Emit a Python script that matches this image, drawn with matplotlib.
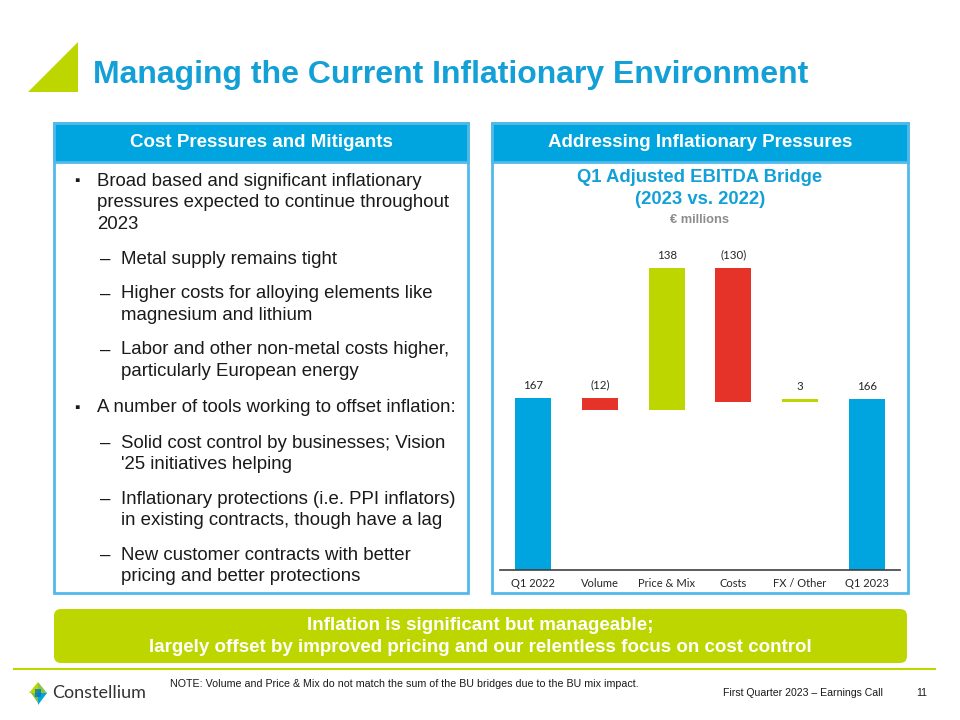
import numpy as np
import matplotlib.pyplot as plt
from matplotlib.patches import Rectangle, Polygon, FancyBboxPatch

# waterfall data (EUR millions)
categories = ['Q1 2022', 'Volume', 'Price & Mix', 'Costs', 'FX / Other', 'Q1 2023']
values = [167, -12, 138, -130, 3, 166]
is_total = [True, False, False, False, False, True]

BLUE = '#00A5E0'
TITLE_BLUE = '#12A0D7'
LIME = '#BED600'
RED = '#E6332A'
BORDER = '#52B9EA'
TXT = '#1A1A1A'

SANS = ['Liberation Sans', 'DejaVu Sans']
NARROW = ['Liberation Sans Narrow', 'Liberation Sans', 'DejaVu Sans']

fig = plt.figure(figsize=(9.6, 7.2), dpi=100)
bg = fig.add_axes([0, 0, 1, 1])
bg.set_xlim(0, 960)
bg.set_ylim(720, 0)
bg.axis('off')

# title + corner triangle
bg.add_patch(Polygon([(28, 92), (78, 42), (78, 92)], closed=True, color=LIME, lw=0))
bg.text(93, 75, 'Managing the Current Inflationary Environment', family=SANS,
        fontsize=23, weight='bold', color=TITLE_BLUE, va='center', ha='left')

# two panels
for x0, x1, head in [(54, 468, 'Cost Pressures and Mitigants'),
                     (492, 908, 'Addressing Inflationary Pressures')]:
    bg.add_patch(Rectangle((x0, 123), x1 - x0, 470, fc='white', ec=BORDER, lw=2))
    bg.add_patch(Rectangle((x0, 123), x1 - x0, 39, fc=BLUE, ec=BORDER, lw=2))
    bg.text((x0 + x1) / 2, 142.5, head, family=SANS, fontsize=13.5, weight='bold',
            color='white', ha='center', va='center')

# left panel bullets
bullets = [
    ('sq', ['Broad based and significant inflationary',
            'pressures expected to continue throughout', '2023'], 181),
    ('dash', ['Metal supply remains tight'], 259),
    ('dash', ['Higher costs for alloying elements like', 'magnesium and lithium'], 294),
    ('dash', ['Labor and other non-metal costs higher,', 'particularly European energy'], 350),
    ('sq', ['A number of tools working to offset inflation:'], 408),
    ('dash', ['Solid cost control by businesses; Vision', "'25 initiatives helping"], 443),
    ('dash', ['Inflationary protections (i.e. PPI inflators)',
              'in existing contracts, though have a lag'], 499),
    ('dash', ['New customer contracts with better', 'pricing and better protections'], 555),
]
for kind, lines, y in bullets:
    if kind == 'sq':
        bg.text(77, y, '\u25aa', family=SANS, fontsize=11, color=TXT, ha='center', va='center')
        tx = 97
    else:
        bg.text(105, y, '\u2013', family=SANS, fontsize=13.4, color=TXT, ha='center', va='center')
        tx = 121
    for i, ln in enumerate(lines):
        bg.text(tx, y + i * 21.7, ln, family=SANS, fontsize=13.4, color=TXT,
                ha='left', va='center')

# chart headings
bg.text(700, 178, 'Q1 Adjusted EBITDA Bridge', family=SANS, fontsize=13.3, weight='bold',
        color=TITLE_BLUE, ha='center', va='center')
bg.text(700, 200, '(2023 vs. 2022)', family=SANS, fontsize=13.3, weight='bold',
        color=TITLE_BLUE, ha='center', va='center')
bg.text(700, 220, '\u20ac millions', family=SANS, fontsize=9.3, weight='bold',
        color='#8C8C8C', ha='center', va='center')

# waterfall chart
ax = fig.add_axes([500 / 960, 1 - 570 / 720, 400 / 960, 320 / 720])
x = np.arange(len(categories))
bottoms, heights, colors = [], [], []
run = 0
for v, tot in zip(values, is_total):
    if tot:
        bottoms.append(0)
        heights.append(v)
        colors.append(BLUE)
        run = v
    else:
        bottoms.append(run if v > 0 else run + v)
        heights.append(abs(v))
        colors.append(LIME if v > 0 else RED)
        run += v
ax.bar(x, heights, bottom=bottoms, width=0.54, color=colors, linewidth=0)
for xi, b, h, v in zip(x, bottoms, heights, values):
    lab = f'({abs(v)})' if v < 0 else f'{v}'
    ax.annotate(lab, (xi, b + h), xytext=(0, 5), textcoords='offset points',
                ha='center', va='bottom', family=['Lato', 'DejaVu Sans'],
                fontsize=8.3, color='#262626')
ax.set_xlim(-0.5, len(categories) - 0.5)
ax.set_ylim(0, 310)
ax.set_xticks(x, categories, family=['Lato', 'DejaVu Sans'], fontsize=8, color='#262626')
ax.tick_params(axis='x', length=0, pad=6)
ax.set_yticks([])
for s in ['top', 'left', 'right']:
    ax.spines[s].set_visible(False)
ax.spines['bottom'].set_color('#404040')
ax.spines['bottom'].set_linewidth(1.2)
ax.patch.set_alpha(0)

# green banner
bg.add_patch(FancyBboxPatch((54, 609), 853, 54, boxstyle='round,pad=0,rounding_size=7',
                            fc=LIME, ec='none'))
bg.text(480, 626, 'Inflation is significant but manageable;', family=NARROW,
        fontsize=13.5, weight='bold', color='white', ha='center', va='center')
bg.text(480, 647, 'largely offset by improved pricing and our relentless focus on cost control',
        family=NARROW, fontsize=13.5, weight='bold', color='white', ha='center', va='center')

# footer
bg.plot([14, 935], [669, 669], color=LIME, lw=1.5)
bg.text(170, 684, 'NOTE: Volume and Price & Mix do not match the sum of the BU bridges '
        'due to the BU mix impact.', family=NARROW, fontsize=7.7, color=TXT,
        ha='left', va='center')
bg.text(883, 693, 'First Quarter 2023 \u2013 Earnings Call', family=NARROW, fontsize=7.6,
        color=TXT, ha='right', va='center')
bg.text(922, 693, '11', family=NARROW, fontsize=7.6, color=TXT, ha='center', va='center')

# logo
bg.add_patch(Polygon([(29, 693), (38, 682), (38, 693)], color=LIME, lw=0))
bg.add_patch(Polygon([(38, 682), (47, 693), (38, 693)], color='#8CC63F', lw=0))
bg.add_patch(Polygon([(31, 693), (38, 693), (38, 703)], color='#7AC143', lw=0))
bg.add_patch(Polygon([(38, 693), (47, 693), (38, 705)], color=BLUE, lw=0))
bg.add_patch(Polygon([(35, 689), (41, 689), (41, 697), (35, 697)], color='#0077C0', lw=0, alpha=0.8))
bg.text(52, 693, 'Constellium', family=['Lato', 'DejaVu Sans'], fontsize=13,
        color='#333333', ha='left', va='center')

fig.savefig('out.png', dpi=100)
